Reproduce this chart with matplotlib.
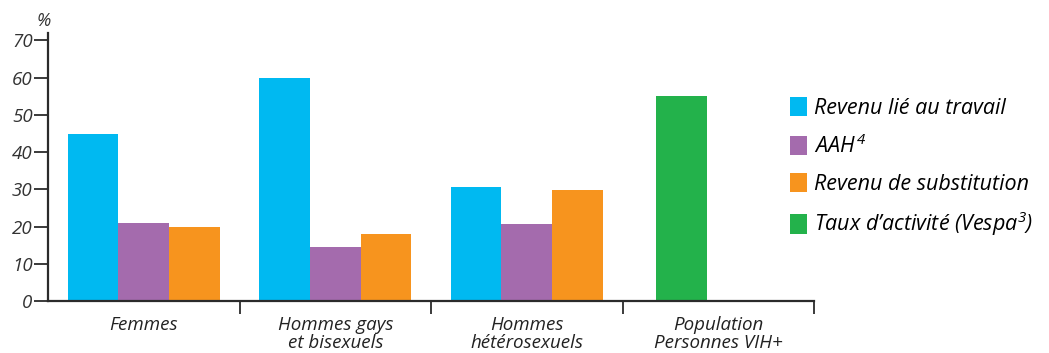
import numpy as np
import matplotlib.pyplot as plt

# Data
categories = ["Femmes", "Hommes gays\net bisexuels", "Hommes\nhétérosexuels", "Population\nPersonnes VIH+"]
revenu_travail = [45, 60, 30.5, None]
aah = [21, 14.5, 20.8, None]
revenu_subst = [20, 18, 29.8, None]
taux_activite = [None, None, None, 55]
yticks = [0, 10, 20, 30, 40, 50, 60, 70]

labels = ["Revenu lié au travail", r"AAH$^{\,4}$", "Revenu de substitution", r"Taux d’activité (Vespa$^{3}$)"]
colors = ["#00B9F1", "#A46BAD", "#F7941E", "#23B24B"]

plt.rcParams['font.family'] = 'Open Sans'
plt.rcParams['font.style'] = 'italic'
plt.rcParams['mathtext.fontset'] = 'custom'
plt.rcParams['mathtext.rm'] = 'Open Sans:italic'
plt.rcParams['mathtext.it'] = 'Open Sans:italic'
plt.rcParams['mathtext.default'] = 'it'

axcol = "#2b2b2b"
fig = plt.figure(figsize=(10.49, 3.53), dpi=100)
ax = fig.add_axes([48/1049, 52/353, (814-48)/1049, (301-33)/353])

x = np.arange(len(categories))
w = 0.265
offsets = [-w, 0, w]
handles = []
for serie, off, col, lab in zip([revenu_travail, aah, revenu_subst], offsets, colors[:3], labels[:3]):
    xs = [xi + off for xi, v in zip(x, serie) if v is not None]
    vs = [v for v in serie if v is not None]
    handles.append(ax.bar(xs, vs, width=w, color=col, label=lab))
xs = [xi - 0.19 for xi, v in zip(x, taux_activite) if v is not None]
vs = [v for v in taux_activite if v is not None]
handles.append(ax.bar(xs, vs, width=w, color=colors[3], label=labels[3]))

ax.set_xlim(-0.5, 3.5)
ax.set_ylim(0, 72)
ax.set_yticks(yticks)
ax.set_yticklabels([str(t) for t in yticks], fontsize=13.5, color="#333333")
ax.tick_params(axis='y', direction='out', length=10, width=1.3, color=axcol, pad=1)

ax.set_xticks(x)
ax.set_xticklabels(categories, fontsize=13.5, color="#222222", linespacing=0.95)
ax.tick_params(axis='x', which='major', length=0, pad=11)
ax.set_xticks([0.5, 1.5, 2.5, 3.5], minor=True)
ax.tick_params(axis='x', which='minor', direction='out', length=9, width=1.3, color=axcol)

for s in ['top', 'right']:
    ax.spines[s].set_visible(False)
for s in ['left', 'bottom']:
    ax.spines[s].set_linewidth(1.6)
    ax.spines[s].set_color(axcol)

fig.text(37/1049, 1 - 26/353, "%", fontsize=13, color="#333333")

fig.legend(handles=handles, labels=labels, loc='upper left',
           bbox_to_anchor=(790/1049, 1 - 97/353), frameon=False,
           fontsize=15.5, handlelength=0.8, handleheight=1.0,
           handletextpad=0.3, labelspacing=0.7, borderpad=0, borderaxespad=0)

fig.savefig("out.png", dpi=100)
